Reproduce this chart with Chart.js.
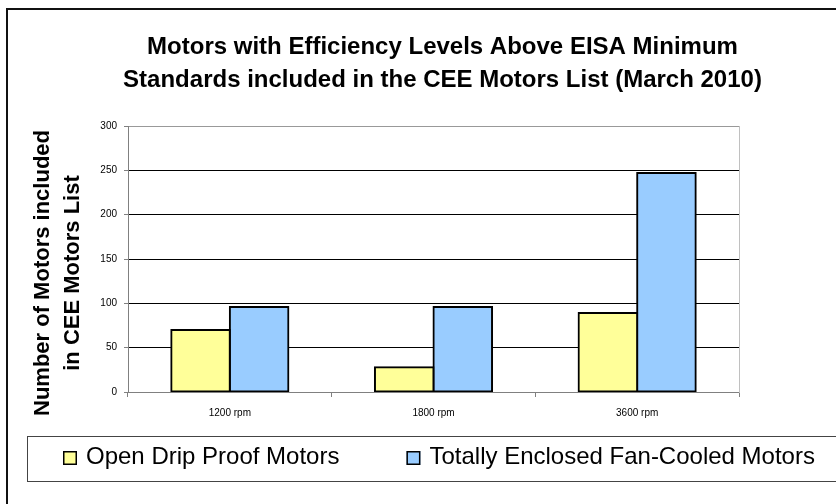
<!DOCTYPE html>
<html>
<head>
<meta charset="utf-8">
<title>CEE Motors List</title>
<script src="https://cdn.jsdelivr.net/npm/chart.js@4.4.1/dist/chart.umd.min.js"></script>
<style>
    html, body { margin: 0; padding: 0; background: #fff; }
    #wrap { width: 836px; height: 504px; }
</style>
</head>
<body>
<div id="wrap"><canvas id="motorsChart" width="836" height="504"></canvas></div>
<script>
// chart data
const categories = ['1200 rpm', '1800 rpm', '3600 rpm'];
const openDripProof = [70, 28, 89];
const totallyEnclosed = [96, 96, 247];
const seriesNames = ['Open Drip Proof Motors', 'Totally Enclosed Fan-Cooled Motors'];
const seriesColors = ['#FFFF99', '#99CCFF'];
const yMin = 0;
const yMax = 300;
const yStep = 50;
const titleLines = ['Motors with Efficiency Levels Above EISA Minimum', 'Standards included in the CEE Motors List (March 2010)'];
const yTitleLines = ['Number of Motors included', 'in CEE Motors List'];

const FONT = '"Liberation Sans", Arial, sans-serif';

// outer frame, legend box, rotated y title and legend entries
const decorations = {
    id: 'decorations',
    beforeDraw(chart) {
        const ctx = chart.ctx;
        ctx.save();
        ctx.fillStyle = '#fff';
        ctx.fillRect(0, 0, chart.width, chart.height);
        ctx.strokeStyle = '#111';
        ctx.lineWidth = 2;
        ctx.strokeRect(7, 9, chart.width + 20, chart.height + 20);
        ctx.strokeStyle = '#444';
        ctx.lineWidth = 1;
        ctx.strokeRect(27.5, 436.5, chart.width + 20, 45);
        ctx.restore();
    },
    afterDraw(chart) {
        const ctx = chart.ctx;
        ctx.save();

        // y axis title
        ctx.fillStyle = '#000';
        ctx.font = 'bold 22px ' + FONT;
        ctx.textAlign = 'center';
        ctx.textBaseline = 'middle';
        ctx.translate(43, 273);
        ctx.rotate(-Math.PI / 2);
        yTitleLines.forEach((line, i) => ctx.fillText(line, 0, i * 29.5));
        ctx.setTransform(1, 0, 0, 1, 0, 0);

        // legend
        ctx.font = '24px ' + FONT;
        ctx.textAlign = 'left';
        let x = 63;
        chart.data.datasets.forEach(ds => {
            ctx.fillStyle = ds.backgroundColor;
            ctx.fillRect(x, 451, 14, 14);
            ctx.strokeStyle = '#000';
            ctx.lineWidth = 1.5;
            ctx.strokeRect(x + 0.75, 451.75, 12.5, 12.5);
            ctx.fillStyle = '#000';
            ctx.fillText(ds.label, x + 23, 457);
            x += 23 + ctx.measureText(ds.label).width + 67;
        });
        ctx.restore();
    }
};

const ctx = document.getElementById('motorsChart').getContext('2d');
new Chart(ctx, {
    type: 'bar',
    data: {
        labels: categories,
        datasets: [{
            label: seriesNames[0],
            data: openDripProof,
            backgroundColor: seriesColors[0]
        }, {
            label: seriesNames[1],
            data: totallyEnclosed,
            backgroundColor: seriesColors[1]
        }]
    },
    options: {
        responsive: false,
        animation: false,
        devicePixelRatio: 1,
        layout: {
            padding: { top: 0, left: 49, right: 0, bottom: 82 }
        },
        datasets: {
            bar: {
                borderColor: '#000',
                borderWidth: 2,
                borderSkipped: false,
                inflateAmount: 1,
                categoryPercentage: 0.575,
                barPercentage: 1.0
            }
        },
        plugins: {
            legend: { display: false },
            tooltip: { enabled: false },
            title: {
                display: true,
                text: titleLines,
                color: '#000',
                font: { family: FONT, size: 24, weight: 'bold', lineHeight: 1.375 },
                padding: { top: 31, bottom: 29 }
            }
        },
        scales: {
            x: {
                afterFit(scale) { scale.height = 30; },
                border: { color: '#808080', width: 1 },
                grid: {
                    offset: true,
                    drawOnChartArea: false,
                    tickLength: 5,
                    color: '#808080'
                },
                ticks: {
                    color: '#000',
                    padding: 10,
                    font: { family: FONT, size: 10 }
                }
            },
            y: {
                min: yMin,
                max: yMax,
                afterFit(scale) { scale.width = 79; },
                border: { color: '#808080', width: 1 },
                grid: {
                    color: c => (c.tick && c.tick.value === yMax) ? '#999' : '#000',
                    tickColor: '#808080',
                    tickLength: 4
                },
                ticks: {
                    stepSize: yStep,
                    color: '#000',
                    padding: 7,
                    font: { family: FONT, size: 10 }
                }
            },
            // only draws the light right edge of the plot and keeps its width
            yRight: {
                position: 'right',
                afterFit(scale) { scale.width = 97; },
                border: { color: '#c0c0c0', width: 1 },
                grid: { display: false },
                ticks: { display: false }
            }
        }
    },
    plugins: [decorations]
});
</script>
</body>
</html>
